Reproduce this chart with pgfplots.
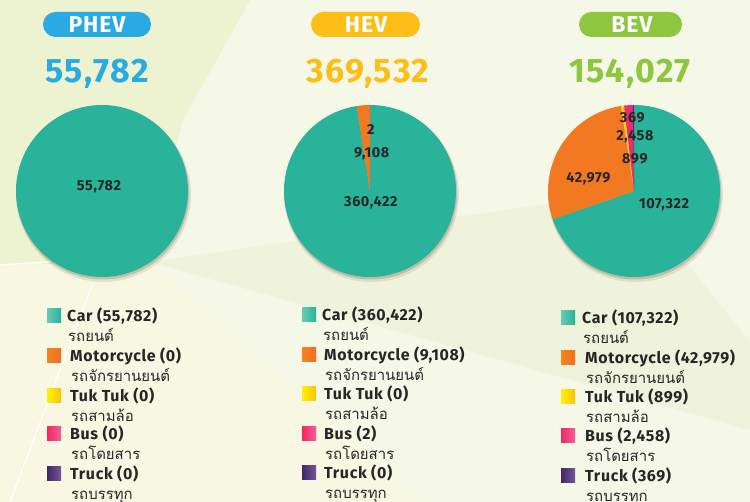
\documentclass[border=0pt]{standalone}
\usepackage{pgfplots}
\usepackage{pgfplotstable}
\pgfplotsset{compat=1.18}
\usepackage{fontspec}
\setmainfont{Fira Sans}[LetterSpace=4]
\newfontfamily\thai[Script=Thai]{Loma}

\definecolor{cCar}{RGB}{40,179,154}
\definecolor{cMoto}{RGB}{242,120,34}
\definecolor{cTuk}{RGB}{250,208,22}
\definecolor{cBus}{RGB}{236,44,112}
\definecolor{cTruck}{RGB}{78,46,122}
\definecolor{cPHEV}{RGB}{41,171,226}
\definecolor{cHEV}{RGB}{253,190,22}
\definecolor{cBEV}{RGB}{141,198,63}
\definecolor{txt}{RGB}{38,38,38}
\definecolor{bg}{RGB}{245,247,231}
\definecolor{bgdark}{RGB}{237,242,208}
\definecolor{bgmid}{RGB}{239,243,219}
\definecolor{bglow}{RGB}{247,247,226}

\pgfplotstableread{
cat value
Car 55782
Motorcycle 0
TukTuk 0
Bus 0
Truck 0
}\phev
\pgfplotstableread{
cat value
Car 360422
Motorcycle 9108
TukTuk 0
Bus 2
Truck 0
}\hev
\pgfplotstableread{
cat value
Car 107322
Motorcycle 42979
TukTuk 899
Bus 2458
Truck 369
}\bev

\newcommand{\drawslices}[1]{%
  \gdef\pietotal{0}%
  \foreach \i in {0,...,4}{%
    \pgfplotstablegetelem{\i}{value}\of{#1}%
    \xdef\pietotal{\fpeval{\pietotal+\pgfplotsretval}}%
  }%
  \gdef\piecum{0}%
  \foreach \i/\pcol in {0/cCar,1/cMoto,2/cTuk,3/cBus,4/cTruck}{%
    \pgfplotstablegetelem{\i}{value}\of{#1}%
    \edef\pv{\pgfplotsretval}%
    \ifnum\pv>0\relax
      \edef\pa{\fpeval{90-360*(\piecum+\pv)/\pietotal}}%
      \edef\pb{\fpeval{90-360*\piecum/\pietotal}}%
      \edef\pn{\fpeval{max(2,ceil((\pb-\pa)/2))}}%
      \edef\pcmd{\noexpand\addplot[fill=\pcol,draw=none,domain=\pa:\pb,samples=\pn,variable=\noexpand\t] ({cos(\noexpand\t)},{sin(\noexpand\t)}) -- (0,0) -- cycle;}%
      \pcmd
    \fi
    \xdef\piecum{\fpeval{\piecum+\pv}}%
  }%
}

\pgfplotsset{pieaxis/.style={
  width=172bp, height=172bp, scale only axis,
  xmin=-1, xmax=1, ymin=-1, ymax=1,
  hide axis, clip=false, anchor=center}}

\tikzset{plab/.style={font=\bfseries\fontsize{14.5}{14.5}\selectfont, text=txt, inner sep=0, anchor=center}}

% legend row: square x, text x, english centre y (px), colours, english, thai
\newcommand\legrow[7]{%
  \shade[left color=#4, right color=#5] (#1bp,{(502-#3-7)*1bp}) rectangle ++(14bp,14bp);
  \node[anchor=base west, inner sep=0, text=txt, font=\bfseries\fontsize{16}{16}\selectfont] at (#2bp,{(502-#3-5.5)*1bp}) {#6};
  \node[anchor=base west, inner sep=0, text=txt, font=\thai\fontsize{15}{15}\selectfont] at ({(#2+1)*1bp},{(502-#3-25)*1bp}) {#7};
}

\colorlet{carL}{cCar!70!white}
\colorlet{motoL}{cMoto!90!yellow}
\colorlet{motoR}{cMoto!90!red}
\colorlet{tukL}{yellow!90!orange}
\colorlet{tukR}{cTuk!80!orange}
\colorlet{busL}{cBus!90!red}
\colorlet{busR}{cBus!75!white}
\colorlet{trL}{cTruck!85!black}
\colorlet{trR}{cTruck!80!white}

\begin{document}
\begin{tikzpicture}
\useasboundingbox (0,0) rectangle (750bp,502bp);
% background
\fill[bg] (0,0) rectangle (750bp,502bp);
\fill[bglow] (0,0) -- (0,237bp) -- (150bp,240bp) -- (420bp,0) -- cycle;
\fill[bgdark] (0,502bp) -- (250bp,502bp) -- (183bp,382bp) -- (145bp,240bp) -- (0,237bp) -- cycle;
\fill[bgmid] (150bp,240bp) -- (750bp,72bp) -- (750bp,160bp) -- (690bp,235bp) -- (560bp,300bp) -- cycle;
\draw[white, line width=1.5bp] (0,237bp) -- (50bp,240bp);
\draw[white, line width=1.5bp] (93bp,219bp) -- (10bp,0);

% shadows
\foreach \cx in {102,370,634}{
  \fill[black!70!brown, opacity=0.10] ({(\cx+1.5)*1bp},307.5bp) circle (87.5bp);
  \fill[black!70!brown, opacity=0.18] ({(\cx+0.8)*1bp},309bp) circle (86.5bp);
}

% PHEV
\begin{axis}[pieaxis, at={(102bp,311bp)}]
\drawslices{\phev}
\node[plab] at (axis cs:-0.035,0.047) {55,782};
\end{axis}
% HEV
\begin{axis}[pieaxis, at={(370bp,311bp)}]
\drawslices{\hev}
\node[plab] at (axis cs:0.01,0.72) {2};
\node[plab] at (axis cs:0.02,0.43) {9,108};
\node[plab] at (axis cs:0.01,-0.14) {360,422};
\end{axis}
% BEV
\begin{axis}[pieaxis, at={(634bp,311bp)}]
\drawslices{\bev}
\node[plab] at (axis cs:-0.02,0.85) {369};
\node[plab] at (axis cs:0.01,0.63) {2,458};
\node[plab] at (axis cs:0.01,0.38) {899};
\node[plab] at (axis cs:-0.53,0.14) {42,979};
\node[plab] at (axis cs:0.35,-0.16) {107,322};
\end{axis}

% pills
\fill[cPHEV, rounded corners=12.5bp] (43bp,465bp) rectangle (151bp,490bp);
\fill[cHEV, rounded corners=12.5bp] (311bp,465bp) rectangle (420bp,490bp);
\fill[cBEV, rounded corners=12.5bp] (579bp,465bp) rectangle (682bp,490bp);
\tikzset{pillt/.style={anchor=base, inner sep=0, text=white, font=\bfseries\fontsize{23}{23}\selectfont}}
\node[pillt] at (97bp,469bp) {PHEV};
\node[pillt] at (366bp,469bp) {HEV};
\node[pillt] at (632bp,469bp) {BEV};

% big numbers
\tikzset{bign/.style={anchor=base, inner sep=0, font=\bfseries\fontsize{34}{34}\selectfont}}
\node[bign, text=cPHEV] at (97bp,419bp) {55,782};
\node[bign, text=cHEV] at (368bp,419bp) {369,532};
\node[bign, text=cBEV] at (630bp,419bp) {154,027};

% legends
\legrow{47}{67}{316}{carL}{cCar}{Car (55,782)}{รถยนต์}
\legrow{47}{70}{356}{motoL}{motoR}{Motorcycle (0)}{รถจักรยานยนต์}
\legrow{47}{70}{396}{tukL}{tukR}{Tuk Tuk (0)}{รถสามล้อ}
\legrow{47}{70}{434}{busL}{busR}{Bus (0)}{รถโดยสาร}
\legrow{47}{70}{474}{trL}{trR}{Truck (0)}{รถบรรทุก}

\legrow{302}{322}{315}{carL}{cCar}{Car (360,422)}{รถยนต์}
\legrow{302}{324}{355}{motoL}{motoR}{Motorcycle (9,108)}{รถจักรยานยนต์}
\legrow{302}{324}{394}{tukL}{tukR}{Tuk Tuk (0)}{รถสามล้อ}
\legrow{302}{324}{434}{busL}{busR}{Bus (2)}{รถโดยสาร}
\legrow{302}{324}{473}{trL}{trR}{Truck (0)}{รถบรรทุก}

\legrow{561}{582}{318}{carL}{cCar}{Car (107,322)}{รถยนต์}
\legrow{561}{585}{358}{motoL}{motoR}{Motorcycle (42,979)}{รถจักรยานยนต์}
\legrow{561}{585}{397}{tukL}{tukR}{Tuk Tuk (899)}{รถสามล้อ}
\legrow{561}{585}{436}{busL}{busR}{Bus (2,458)}{รถโดยสาร}
\legrow{561}{585}{476}{trL}{trR}{Truck (369)}{รถบรรทุก}
\end{tikzpicture}
\end{document}
